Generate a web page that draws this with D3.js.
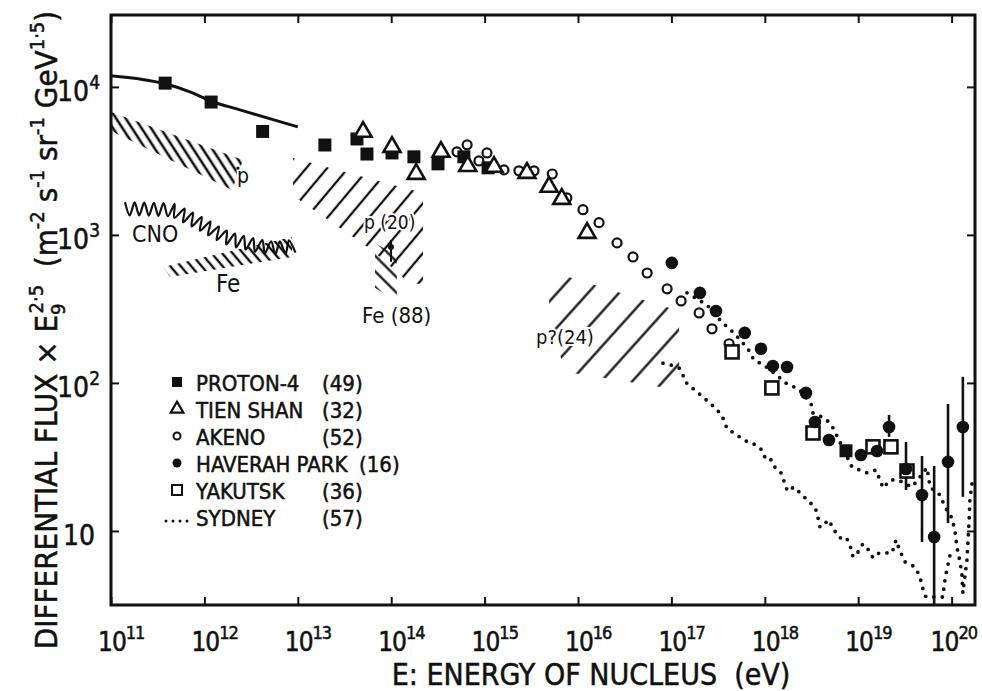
<!DOCTYPE html>
<html>
<head>
<meta charset="utf-8">
<script src="https://cdn.jsdelivr.net/npm/d3@7"></script>
<style>
  body { margin: 0; background: #fff; }
  text { font-family: "Liberation Sans Narrow", "DejaVu Sans Condensed", sans-serif; fill: #111; white-space: pre;
         stroke: #111; stroke-width: 0.5px; }
</style>
</head>
<body>
<div id="chart"></div>
<script>
// ---- data (energy in eV, flux x E^2.5) ----
var protonE = [3.8e11, 1.18e12, 4.2e12, 1.95e13, 4.3e13, 5.5e13, 1.02e14, 1.75e14, 3.17e14, 6.0e14, 1.09e15, 7.4e18];
var protonF = [1.06e4, 7.9e3, 5.0e3, 4.05e3, 4.45e3, 3.52e3, 3.58e3, 3.37e3, 3.02e3, 3.37e3, 2.84e3, 34.8];
var fitE = [1e11, 2.04e11, 3.8e11, 7.0e11, 1.18e12, 2.4e12, 5.0e12, 1.0e13];
var fitF = [1.19e4, 1.13e4, 1.05e4, 9.25e3, 8.0e3, 7.0e3, 6.1e3, 5.37e3];
var tienE = [5.0e13, 1.02e14, 1.85e14, 3.41e14, 6.6e14, 1.26e15, 2.84e15, 4.9e15, 6.7e15, 1.25e16];
var tienF = [4.97e3, 3.93e3, 2.58e3, 3.64e3, 2.92e3, 2.88e3, 2.62e3, 2.11e3, 1.75e3, 1.03e3];
var akenoE = [5.06e14, 6.5e14, 8.7e14, 1.06e15, 1.61e15, 2.33e15, 3.38e15, 5.3e15, 7.6e15, 1.13e16, 1.68e16,
  2.62e16, 3.88e16, 5.5e16, 9.0e16, 1.27e17, 1.98e17, 2.72e17, 4.14e17];
var akenoF = [3.64e3, 4.06e3, 3.16e3, 3.58e3, 2.75e3, 2.71e3, 2.71e3, 2.58e3, 1.78e3, 1.48e3, 1.21e3,
  883, 710, 553, 432, 358, 297, 232, 184];
var haverahE = [1.01e17, 2.02e17, 3.0e17, 6.1e17, 9.1e17, 1.22e18, 1.73e18, 2.76e18, 3.44e18, 4.86e18, 1.07e19,
  1.59e19, 2.14e19, 3.25e19, 4.82e19, 6.5e19, 9.15e19, 1.32e20];
var haverahF = [647, 406, 306, 218, 170, 130, 128, 85.6, 54.5, 41.2, 32.6, 34.7, 50.4, 26.2, 17.5, 9.1, 29.3, 50.4];
var haverahLo = [null, null, null, null, null, null, null, null, null, null, null, null, 43.2, 18.9, 8.43, 3.2, 11.3, 17.0];
var haverahHi = [null, null, null, null, null, null, null, null, null, null, null, null, 60.8, 39.9, 32.1, 27.5, 72.1, 110];
var yakutskE = [4.46e17, 1.19e18, 3.28e18, 1.44e19, 2.24e19, 3.33e19];
var yakutskF = [162, 92.5, 45.9, 37.0, 37.0, 25.4];
var sydneyE = [8.13e16, 9.9e16, 1.21e17, 1.33e17, 1.40e17, 1.58e17, 1.93e17, 2.23e17, 2.65e17, 3.08e17, 3.48e17,
  3.75e17, 3.94e17, 4.68e17, 5.56e17, 6.6e17, 8.05e17, 9.33e17, 1.0e18, 1.14e18, 1.19e18, 1.38e18, 1.49e18,
  1.57e18, 1.69e18, 1.73e18, 2.06e18, 2.38e18, 2.9e18, 3.44e18, 3.62e18, 3.9e18, 4.31e18, 4.75e18, 5.37e18,
  5.78e18, 6.38e18, 7.4e18, 8.17e18, 8.79e18, 9.95e18, 1.12e19, 1.27e19, 1.44e19, 1.67e19, 1.99e19, 2.3e19,
  2.54e19, 2.67e19, 2.87e19, 3.17e19, 3.86e19, 4.27e19, 4.48e19, 4.82e19, 4.94e19, 5.32e19, 8.09e19, 8.3e19,
  8.71e19, 9.38e19, 9.86e19];
var sydneyF = [136, 132, 126, 113, 102, 95.5, 85.6, 79.2, 72.1, 65.8, 59.8,
  53.7, 48.9, 45.9, 42.5, 39.9, 38.1, 35.2, 31.6, 31.6, 28.8, 25.4, 24.7,
  22.5, 20.1, 18.6, 19.8, 18.1, 16.0, 14.5, 13.2, 10.6, 11.0, 11.9, 10.6,
  9.69, 8.97, 9.1, 8.04, 6.67, 7.21, 8.17, 7.55, 6.58, 7.10, 7.10, 7.10,
  8.69, 7.92, 7.10, 6.18, 5.81, 5.45, 4.89, 4.46, 3.99, 3.58, 3.58, 4.25,
  5.12, 6.37, 7.44];
var upperDotsE = [1.47e17, 2.40e17, 3.15e17, 3.94e17, 4.68e17, 6.6e17, 7.66e17, 9.8e17, 1.38e18, 1.73e18, 2.32e18,
  3.13e18, 3.28e18, 4.52e18, 5.37e18, 6.22e18, 8.59e18, 1.24e19, 1.55e19, 1.85e19, 2.19e19, 2.67e19, 3.77e19,
  5.46e19, 5.87e19, 7.52e19, 8.5e19, 1.01e20, 1.09e20, 1.14e20, 1.23e20, 1.29e20, 1.32e20,
  1.46e20, 1.5e20, 1.54e20, 1.57e20, 1.69e20];
var upperDotsF = [406, 337, 275, 239, 218, 170, 143, 132, 111, 98.4, 91.0,
  72.1, 62.7, 57.1, 49.7, 41.2, 27.0, 24.7, 25.8, 19.5, 22.1, 22.1, 19.8,
  26.7, 19.8, 17.5, 14.5, 12.2, 9.84, 7.8, 6.18, 5.05, 3.81,
  6.37, 8.69, 11.9, 16.2, 23.2];

// composition bands (outline corners) and the CNO trace
var pBandE = [1e11, 2.59e12, 1.98e12, 1e11];
var pBandF = [6.78e3, 3.21e3, 2.01e3, 5.04e3];
var feBandE = [3.6e11, 8.67e12, 8.67e12, 4.28e11];
var feBandF = [608, 969, 710, 520];
var p20E = [8.9e12, 2.19e14, 2.19e14, 1.59e14, 1.15e14, 6.23e13, 8.9e12];
var p20F = [3.31e3, 1.92e3, 467, 467, 562, 792, 1.84e3];
var fe88E = [6.71e13, 1.15e14, 1.15e14, 6.71e13];
var fe88F = [883, 721, 352, 439];
var p24E = [4.9e15, 1.21e17, 1.21e17, 7.26e15, 4.9e15];
var p24F = [571, 306, 89.7, 119, 275];
var cnoE = [1.41e11, 4.28e11, 6.2e11, 1.01e12, 1.66e12, 3.08e12, 5.7e12, 9.6e12];
var cnoF = [1.5e3, 1.48e3, 1.34e3, 1.15e3, 969, 869, 817, 843];

var noteText = ["p", "CNO", "Fe", "p (20)", "Fe (88)", "p?(24)"];
var noteE = [2.23e12, 1.68e11, 1.33e12, 5.12e13, 4.87e13, 3.55e15];
var noteF = [2.24e3, 897, 412, 1.1e3, 254, 184];

var legendNames = ["PROTON-4", "TIEN SHAN", "AKENO", "HAVERAH PARK", "YAKUTSK", "SYDNEY"];
var legendCounts = ["(49)", "(32)", "(52)", "(16)", "(36)", "(57)"];
var xDecades = [1e11, 1e12, 1e13, 1e14, 1e15, 1e16, 1e17, 1e18, 1e19, 1e20];
var yDecades = [10, 100, 1000, 10000];

// ---- layout ----
var margin = { top: 15, right: 7, bottom: 86, left: 111 },
  width = 982 - margin.left - margin.right,
  height = 691 - margin.top - margin.bottom;

var root = d3.select("#chart").append("svg")
  .attr("width", 982).attr("height", 691);
var svg = root.append("g")
  .attr("transform", "translate(" + margin.left + "," + margin.top + ")");

var x = d3.scaleLog().domain([1e11, 1.78e20]).range([0, width]);
var y = d3.scaleLog().domain([3.16, 3.06e4]).range([height, 0]);

var defs = root.append("defs");
defs.append("clipPath").attr("id", "plotclip")
  .append("rect").attr("width", width).attr("height", height);

// hatch patterns
function hatch(id, gap, angle, sw) {
  var p = defs.append("pattern").attr("id", id)
    .attr("patternUnits", "userSpaceOnUse")
    .attr("width", gap).attr("height", gap)
    .attr("patternTransform", "rotate(" + angle + ")");
  p.append("line").attr("x1", gap / 2).attr("y1", 0).attr("x2", gap / 2).attr("y2", gap)
    .attr("stroke", "#111").attr("stroke-width", sw);
}
hatch("hP", 8, -33, 2.6);
hatch("hFe", 8, -40, 2.4);
hatch("hP20", 16, 40, 2.3);
hatch("hFe88", 11, -45, 2.3);
hatch("hP24", 23, 42, 2.3);

var plot = svg.append("g").attr("clip-path", "url(#plotclip)");

// bands
var poly = d3.line().x(function (d) { return x(d[0]); }).y(function (d) { return y(d[1]); });
[[pBandE, pBandF, "hP"], [feBandE, feBandF, "hFe"], [p20E, p20F, "hP20"], [fe88E, fe88F, "hFe88"], [p24E, p24F, "hP24"]]
  .forEach(function (b) {
    plot.append("path")
      .attr("d", poly(d3.zip(b[0], b[1])) + "Z")
      .attr("fill", "url(#" + b[2] + ")");
  });

// CNO wavy trace
var guide = plot.append("path")
  .attr("d", d3.line().curve(d3.curveMonotoneX)
    .x(function (d) { return x(d[0]); }).y(function (d) { return y(d[1]); })(d3.zip(cnoE, cnoF)))
  .attr("fill", "none");
var glen = guide.node().getTotalLength();
var wave = [];
for (var s = 0, k = 0; s <= glen; s += 4.8, k++) {
  var a = guide.node().getPointAtLength(Math.max(0, s - 1)),
    b = guide.node().getPointAtLength(Math.min(glen, s + 1)),
    c = guide.node().getPointAtLength(s);
  var dx = b.x - a.x, dy = b.y - a.y, n = Math.sqrt(dx * dx + dy * dy) || 1;
  var off = (k % 2 ? 6.5 : -6.5);
  wave.push([c.x - dy / n * off, c.y + dx / n * off]);
}
guide.remove();
plot.append("path")
  .attr("d", d3.line().curve(d3.curveCardinal.tension(0.1))(wave))
  .attr("fill", "none").attr("stroke", "#111").attr("stroke-width", 2.2);

// point with bar inside the p(20)/Fe(88) band
plot.append("line")
  .attr("x1", x(9.95e13)).attr("x2", x(9.95e13))
  .attr("y1", y(925)).attr("y2", y(658))
  .attr("stroke", "#111").attr("stroke-width", 2);
plot.append("circle").attr("cx", x(9.95e13)).attr("cy", y(830)).attr("r", 3).attr("fill", "#111");

// annotation labels
plot.selectAll(".note").data(noteText).enter().append("text")
  .attr("class", "note")
  .attr("x", function (d, i) { return x(noteE[i]); })
  .attr("y", function (d, i) { return y(noteF[i]); })
  .style("font-size", function (d, i) { return [21, 23, 24, 19, 22, 20][i] + "px"; })
  .style("stroke", "#fff").style("stroke-width", 4).style("paint-order", "stroke")
  .text(function (d) { return d; });
plot.append("circle").attr("cx", x(2.23e12) + 1).attr("cy", y(2.24e3) - 15).attr("r", 1.6).attr("fill", "#111");

// fitted line through PROTON-4
plot.append("path")
  .attr("d", d3.line().curve(d3.curveMonotoneX)
    .x(function (d) { return x(d[0]); }).y(function (d) { return y(d[1]); })(d3.zip(fitE, fitF)))
  .attr("fill", "none").attr("stroke", "#111").attr("stroke-width", 3);

// dotted series
function dotted(E, F) {
  plot.append("path")
    .attr("d", d3.line().x(function (d) { return x(d[0]); }).y(function (d) { return y(d[1]); })(d3.zip(E, F)))
    .attr("fill", "none").attr("stroke", "#111").attr("stroke-width", 3.8)
    .attr("stroke-linecap", "round").attr("stroke-dasharray", "0 8.5");
}
dotted(sydneyE, sydneyF);
dotted(upperDotsE, upperDotsF);

// error bars
d3.range(haverahE.length).forEach(function (i) {
  if (haverahLo[i] == null) return;
  plot.append("line")
    .attr("x1", x(haverahE[i])).attr("x2", x(haverahE[i]))
    .attr("y1", y(haverahHi[i])).attr("y2", y(haverahLo[i]))
    .attr("stroke", "#111").attr("stroke-width", 2.6);
});

// markers
var tri = d3.symbol().type(d3.symbolTriangle).size(125);
plot.selectAll(".ak").data(d3.zip(akenoE, akenoF)).enter().append("circle")
  .attr("cx", function (d) { return x(d[0]); }).attr("cy", function (d) { return y(d[1]); })
  .attr("r", 4.5).attr("fill", "#fff").attr("stroke", "#111").attr("stroke-width", 2.2);
plot.selectAll(".pr").data(d3.zip(protonE, protonF)).enter().append("rect")
  .attr("x", function (d) { return x(d[0]) - 6.5; }).attr("y", function (d) { return y(d[1]) - 6.5; })
  .attr("width", 13).attr("height", 13).attr("fill", "#111");
plot.selectAll(".ts").data(d3.zip(tienE, tienF)).enter().append("path")
  .attr("d", tri)
  .attr("transform", function (d) { return "translate(" + x(d[0]) + "," + y(d[1]) + ")"; })
  .attr("fill", "#fff").attr("stroke", "#111").attr("stroke-width", 2.6);
plot.selectAll(".yk").data(d3.zip(yakutskE, yakutskF)).enter().append("rect")
  .attr("x", function (d) { return x(d[0]) - 6.5; }).attr("y", function (d) { return y(d[1]) - 6.5; })
  .attr("width", 13).attr("height", 13).attr("fill", "#fff").attr("stroke", "#111").attr("stroke-width", 2.6);
plot.selectAll(".hp").data(d3.zip(haverahE, haverahF)).enter().append("circle")
  .attr("cx", function (d) { return x(d[0]); }).attr("cy", function (d) { return y(d[1]); })
  .attr("r", 6.3).attr("fill", "#111");

// frame and ticks
svg.append("rect").attr("width", width).attr("height", height)
  .attr("fill", "none").attr("stroke", "#111").attr("stroke-width", 3);
function ticks(axis, tr) {
  var g = svg.append("g").attr("transform", tr)
    .call(axis.tickSize(-8).tickFormat(""));
  g.select(".domain").remove();
  g.selectAll("line").attr("stroke", "#111").attr("stroke-width", 2);
}
ticks(d3.axisBottom(x).tickValues(xDecades), "translate(0," + height + ")");
ticks(d3.axisTop(x).tickValues(xDecades), "translate(0,0)");
ticks(d3.axisLeft(y).tickValues(yDecades), "translate(0,0)");
ticks(d3.axisRight(y).tickValues(yDecades), "translate(" + width + ",0)");

// tick labels
svg.selectAll(".xl").data(xDecades).enter().append("text")
  .attr("x", function (d) { return x(d) - (d >= 1e20 ? 21 : 13); })
  .attr("y", height + 46)
  .style("font-size", "26px")
  .each(function (d) {
    var t = d3.select(this);
    t.append("tspan").attr("letter-spacing", "-1").text("10");
    t.append("tspan").attr("dy", -12).attr("letter-spacing", "-1").style("font-size", "18px").text(Math.round(Math.log10(d)));
  });
svg.selectAll(".yl").data(yDecades).enter().append("text")
  .attr("x", function (d) { return d === 10 ? -16 : -11; })
  .attr("y", function (d) { return y(d) + 14; })
  .attr("text-anchor", "end")
  .style("font-size", "28px")
  .each(function (d) {
    var t = d3.select(this), e = Math.round(Math.log10(d));
    t.append("tspan").text("10");
    if (e > 1) t.append("tspan").attr("dy", -12).style("font-size", "19px").text(e);
  });

// axis titles
svg.append("text")
  .attr("x", width / 2 + 48).attr("y", height + 80)
  .attr("text-anchor", "middle")
  .style("font-size", "30px")
  .text("E: ENERGY OF NUCLEUS  (eV)");

var yt = svg.append("text")
  .attr("transform", "translate(-54," + (height / 2 + 20) + ") rotate(-90)")
  .attr("text-anchor", "middle")
  .style("font-size", "31px");
var parts = [["DIFFERENTIAL FLUX × E", 0, 0, 31], ["9", 0, 8, 20], ["2·5", -10, -22, 20], ["  (m", 0, 14, 31],
  ["-2", 0, -13, 20], [" s", 0, 13, 31], ["-1", 0, -13, 20], [" sr", 0, 13, 31], ["-1", 0, -13, 20],
  [" GeV", 0, 13, 31], ["1·5", 0, -13, 20], [")", 0, 13, 31]];
parts.forEach(function (p) {
  yt.append("tspan").attr("dx", p[1]).attr("dy", p[2]).style("font-size", p[3] + "px").text(p[0]);
});

// legend
var lg = svg.append("g").attr("transform", "translate(66,368)");
var rowH = 27;
var rows = lg.selectAll(".row").data(legendNames).enter().append("g")
  .attr("transform", function (d, i) { return "translate(0," + i * rowH + ")"; });
rows.append("text").attr("x", 19).attr("y", 8).style("font-size", "22px").text(function (d) { return d; });
rows.append("text")
  .attr("x", function (d, i) { return i === 3 ? 182 : 145; })
  .attr("y", 8).style("font-size", "22px")
  .text(function (d, i) { return legendCounts[i]; });
lg.append("rect").attr("x", -5).attr("y", -6).attr("width", 10).attr("height", 10).attr("fill", "#111");
lg.append("path").attr("d", d3.symbol().type(d3.symbolTriangle).size(70))
  .attr("transform", "translate(0," + (rowH - 1) + ")")
  .attr("fill", "#fff").attr("stroke", "#111").attr("stroke-width", 2.2);
lg.append("circle").attr("cx", 0).attr("cy", 2 * rowH - 1).attr("r", 3.5)
  .attr("fill", "#fff").attr("stroke", "#111").attr("stroke-width", 2);
lg.append("circle").attr("cx", 0).attr("cy", 3 * rowH - 1).attr("r", 4.5).attr("fill", "#111");
lg.append("rect").attr("x", -5).attr("y", 4 * rowH - 6).attr("width", 10).attr("height", 10)
  .attr("fill", "#fff").attr("stroke", "#111").attr("stroke-width", 2);
lg.append("line").attr("x1", -11).attr("x2", 13).attr("y1", 5 * rowH + 3).attr("y2", 5 * rowH + 3)
  .attr("stroke", "#111").attr("stroke-width", 3).attr("stroke-linecap", "round").attr("stroke-dasharray", "0 7");
</script>
</body>
</html>
